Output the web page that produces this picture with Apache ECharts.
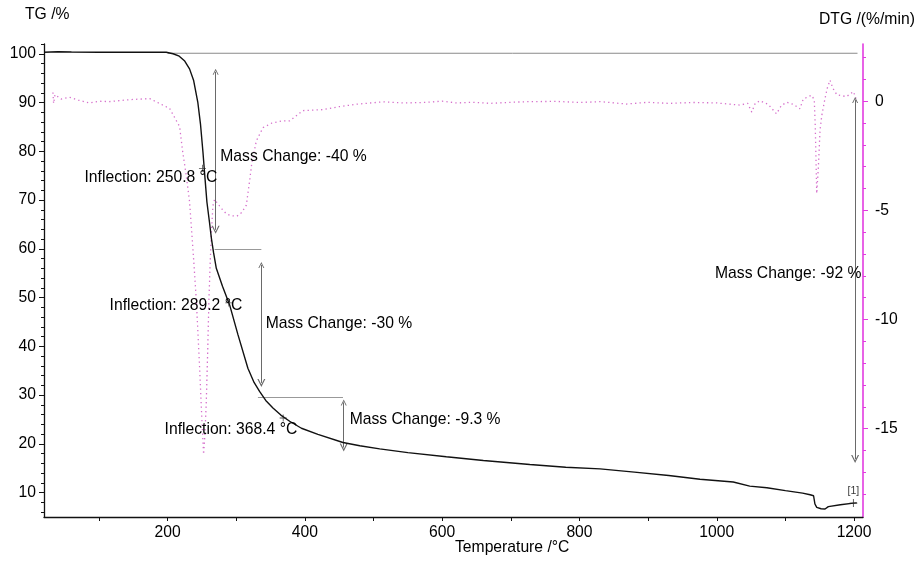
<!DOCTYPE html>
<html><head><meta charset="utf-8">
<script src="https://cdn.jsdelivr.net/npm/echarts@6/dist/echarts.min.js"></script>
<style>html,body{margin:0;padding:0;background:#fff}#c{width:920px;height:563px}</style>
</head><body><div id="c"></div>
<script>
// ---- data ----
const tgTemp = [20,40,60,100,140,180,198,208,217,225,232,238,244,248,251.5,254.5,257.3,261,264,267,271,280,290.4,302.5,317,326,334,343,353.5,365,377.8,395,419,455.5,480,509,550,606,660,727.7,780,830,880,930,975.5,1024,1048,1073,1100,1125,1136,1141,1143,1145.6,1152,1157.7,1162.5,1180,1199,1204];
const tgValue = [100.3,100.4,100.35,100.3,100.3,100.3,100.3,100.0,99.5,98.5,96.9,94.5,90.1,85.5,79.9,74.5,69.6,65.5,62.0,59.2,56.0,52.3,48.5,42.4,35.5,32.6,30.76,28.9,27.35,25.9,24.64,23.2,21.96,20.27,19.6,18.98,18.2,17.35,16.6,15.78,15.2,14.86,14.2,13.5,12.75,12.17,11.33,11.0,10.4,9.9,9.57,9.36,7.66,6.98,6.7,6.63,7.13,7.5,7.85,7.9];

const dtgTemp = [33,34,36,45,57,70,86,100,115,134,150,174,188,203,207,212,217.5,222,227,232,237,242,246.7,250,252.5,254.5,256.4,258.5,260.2,262,263.7,266,268.5,271,278,285.6,293,301,308,314.7,319.5,322.5,329.3,339,352,368,378,397,426,450,475,514,545,572,600,621,645,669,700,727.7,766.6,800,830,868.6,900,930,966,1000,1034,1045,1051,1056,1063,1075,1087,1094,1102,1112,1121,1126,1138,1142,1143.5,1145.6,1148,1150.4,1153,1157.7,1161,1165,1169,1175,1189,1199,1203];
const dtgValue = [0.4,-0.1,0.3,0.1,0.18,0.05,-0.08,0.0,-0.02,0.04,0.08,0.12,-0.1,-0.33,-0.56,-0.85,-1.16,-2.31,-3.36,-4.59,-6.8,-9.17,-12.23,-14.6,-16.18,-15.2,-13.75,-11.4,-9.17,-7.5,-6.1,-4.8,-4.5,-4.58,-4.9,-5.16,-5.25,-5.27,-5.1,-4.76,-3.66,-2.88,-1.82,-1.21,-1.0,-0.9,-0.9,-0.43,-0.39,-0.25,-0.14,-0.03,-0.08,-0.06,0.0,-0.08,-0.05,-0.1,-0.05,-0.02,-0.01,-0.06,-0.02,-0.13,-0.05,-0.1,-0.06,-0.08,-0.18,-0.1,-0.5,-0.1,0.02,-0.15,-0.58,-0.2,-0.05,-0.15,-0.35,0.1,0.27,0.07,-1.18,-4.23,-3.0,-1.33,-0.65,0.13,0.6,0.96,0.6,0.29,0.21,0.44,0.1];

const baselineTemp = [200, 1205];
const baselineValue = [100.1, 100.1];

const xTickValues = [100,200,300,400,500,600,700,800,900,1000,1100,1200];
const xLabelValues = [200,400,600,800,1000,1200];
const tgLabelValues = [10,20,30,40,50,60,70,80,90,100];
const tgMinorValues = [6,8,12,14,16,18,22,24,26,28,32,34,36,38,42,44,46,48,52,54,56,58,62,64,66,68,72,74,76,78,82,84,86,88,92,94,96,98,102];
const dtgLabelValues = [-15,-10,-5,0];
const dtgMinorValues = [-18,-17,-16,-14,-13,-12,-11,-9,-8,-7,-6,-4,-3,-2,-1,1,2];

const annotationTexts = ['Inflection: 250.8 °C','Inflection: 289.2 °C','Inflection: 368.4 °C','Mass Change: -40 %','Mass Change: -30 %','Mass Change: -9.3 %','Mass Change: -92 %'];
const annotationTemp = [79, 115.5, 195.6, 276.8, 342.9, 465.3, 997.4];
const annotationValue = [74.68, 48.27, 22.86, 78.99, 44.68, 24.99, 54.93];

const inflectionTemp = [250.8, 289.2, 368.4];
const inflectionValue = [76.5, 48.9, 25.3];

const arrowTemp = [270, 336.6, 456.6, 1201.5];
const arrowTop = [96.3, 56.7, 28.5, 90.5];
const arrowBottom = [63.9, 32.5, 19.25, 16.9];

const levelFrom = [268.5, 331.6];
const levelTo = [336.6, 455.5];
const levelValue = [59.9, 29.65];

const endMarkTemp = [1199];
const endMarkValue = [7.85];
const endMarkLabel = ['[1]'];

// ---- chart ----
const FONT = '"Liberation Sans", Arial, sans-serif';
const FS = 15.7;
const MAG = '#e23ce0';
const TXT = '#000';
const zip = (a, b) => a.map((v, i) => [v, b[i]]);
const plain = v => String(v);
const chevron = 'path://M5,0 L10,12 L8.4,12 L5,3.6 L1.6,12 L0,12 Z';
const plus = 'path://M4,0 L5,0 L5,4 L9,4 L9,5 L5,5 L5,9 L4,9 L4,5 L0,5 L0,4 L4,4 Z';

const chart = echarts.init(document.getElementById('c'), null, {renderer: 'canvas'});
chart.setOption({
  animation: false,
  backgroundColor: '#fff',
  textStyle: {fontFamily: FONT},
  grid: {left: 44, right: 57, top: 44, bottom: 46},
  xAxis: [{
    type: 'value', min: 20, max: 1213,
    axisLine: {onZero: false, lineStyle: {color: '#111', width: 1.3}},
    axisTick: {customValues: xTickValues, length: 4, lineStyle: {color: '#111'}},
    axisLabel: {customValues: xLabelValues, formatter: plain, fontSize: FS, color: TXT, margin: 8, fontFamily: FONT},
    splitLine: {show: false}
  }],
  yAxis: [{
    type: 'value', position: 'left', min: 5, max: 102,
    axisLine: {show: true, onZero: false, lineStyle: {color: '#111', width: 1.3}},
    axisTick: {show: true, customValues: tgLabelValues, length: 5, lineStyle: {color: '#111'}},
    axisLabel: {customValues: tgLabelValues, formatter: plain, fontSize: FS, color: TXT, margin: 8, fontFamily: FONT},
    splitLine: {show: false}
  }, {
    type: 'value', position: 'left', min: 5, max: 102,
    axisLine: {show: false, onZero: false},
    axisTick: {show: true, customValues: tgMinorValues, length: 3, lineStyle: {color: '#111'}},
    axisLabel: {show: false},
    splitLine: {show: false}
  }, {
    type: 'value', position: 'right', min: -19.05, max: 2.62,
    axisLine: {show: true, onZero: false, lineStyle: {color: MAG, width: 1.6}},
    axisTick: {show: true, customValues: dtgLabelValues, length: 5, lineStyle: {color: MAG}},
    axisLabel: {customValues: dtgLabelValues, formatter: plain, fontSize: FS, color: TXT, margin: 12, fontFamily: FONT},
    splitLine: {show: false}
  }, {
    type: 'value', position: 'right', min: -19.05, max: 2.62,
    axisLine: {show: false, onZero: false},
    axisTick: {show: true, customValues: dtgMinorValues, length: 3, lineStyle: {color: MAG}},
    axisLabel: {show: false},
    splitLine: {show: false}
  }],
  graphic: [
    {type: 'text', x: 25, y: 15, style: {text: 'TG /%', font: FS + 'px ' + FONT, fill: TXT, verticalAlign: 'middle', align: 'left'}},
    {type: 'text', x: 819, y: 20, style: {text: 'DTG /(%/min)', font: FS + 'px ' + FONT, fill: TXT, verticalAlign: 'middle', align: 'left'}},
    {type: 'text', x: 455, y: 548, style: {text: 'Temperature /°C', font: FS + 'px ' + FONT, fill: TXT, verticalAlign: 'middle', align: 'left'}}
  ],
  series: [
    {
      name: 'baseline', type: 'line', yAxisIndex: 0, data: zip(baselineTemp, baselineValue),
      showSymbol: false, lineStyle: {color: '#8a8a8a', width: 1}, z: 1
    },
    {
      name: 'DTG', type: 'line', yAxisIndex: 2, data: zip(dtgTemp, dtgValue),
      showSymbol: false, lineStyle: {color: '#d56fcb', width: 1.3, type: [1.3, 3.2]}, z: 2
    },
    {
      name: 'levels', type: 'lines', coordinateSystem: 'cartesian2d', xAxisIndex: 0, yAxisIndex: 0,
      data: levelValue.map((v, i) => ({coords: [[levelFrom[i], v], [levelTo[i], v]]})),
      symbol: ['none', 'none'], lineStyle: {color: '#999', width: 1.2, opacity: 1}, z: 3
    },
    {
      name: 'arrows', type: 'lines', coordinateSystem: 'cartesian2d', xAxisIndex: 0, yAxisIndex: 0,
      data: arrowTemp.map((t, i) => ({coords: [[t, arrowTop[i]], [t, arrowBottom[i]]]})),
      symbol: [chevron, chevron], symbolSize: [6, 8],
      lineStyle: {color: '#6a6a6a', width: 1, opacity: 1}, z: 3
    },
    {
      name: 'TG', type: 'line', yAxisIndex: 0, data: zip(tgTemp, tgValue),
      showSymbol: false, lineStyle: {color: '#111', width: 1.4}, z: 4
    },
    {
      name: 'inflections', type: 'scatter', yAxisIndex: 0, data: zip(inflectionTemp, inflectionValue),
      symbol: plus, symbolSize: 7, itemStyle: {color: '#222'}, z: 5
    },
    {
      name: 'end', type: 'scatter', yAxisIndex: 0,
      data: endMarkTemp.map((t, i) => ({name: endMarkLabel[i], value: [t, endMarkValue[i]]})),
      symbol: plus, symbolSize: 8, itemStyle: {color: '#222'},
      label: {show: true, position: 'top', distance: 2, formatter: '{b}', fontSize: 10.5, color: TXT, fontFamily: FONT}, z: 5
    },
    {
      name: 'annotations', type: 'scatter', yAxisIndex: 0,
      data: annotationTexts.map((s, i) => ({name: s, value: [annotationTemp[i], annotationValue[i]]})),
      symbolSize: 0, itemStyle: {color: 'transparent'},
      label: {show: true, position: 'right', distance: 0, formatter: '{b}', fontSize: FS, color: TXT, fontFamily: FONT, opacity: 1},
      emphasis: {disabled: true},
      z: 6
    }
  ]
});
</script>
</body></html>
